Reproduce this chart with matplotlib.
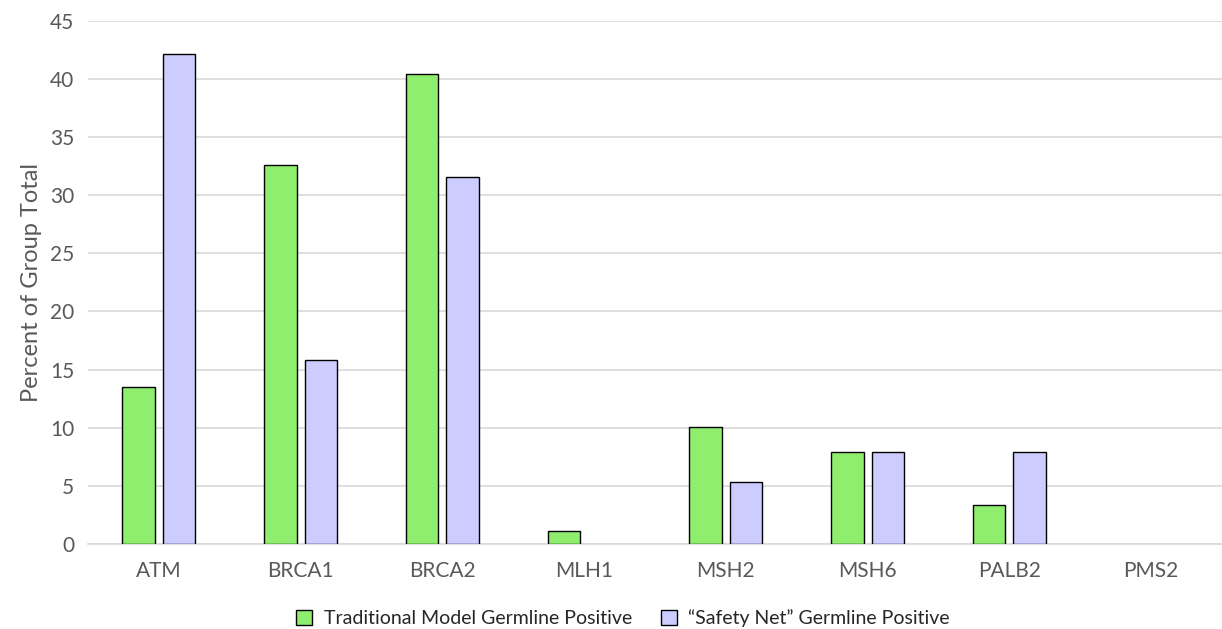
import matplotlib.pyplot as plt
import numpy as np

genes = ["ATM", "BRCA1", "BRCA2", "MLH1", "MSH2", "MSH6", "PALB2", "PMS2"]
traditional = [13.5, 32.6, 40.4, 1.1, 10.1, 7.9, 3.4, 0]
safety_net = [42.1, 15.8, 31.6, 0, 5.3, 7.9, 7.9, 0]
yticks = [0, 5, 10, 15, 20, 25, 30, 35, 40, 45]

plt.rcParams['font.family'] = ['Lato', 'DejaVu Sans']
grey = '#595959'

fig = plt.figure(figsize=(12.22, 6.29), dpi=100)
ax = fig.add_axes([0.072, 0.135, 0.928, 0.832])

x = np.arange(len(genes))
w = 0.23
off = 0.143
# empty categories get no outline
ax.bar(x - off, traditional, w, color='#90EE6E', edgecolor='black',
       linewidth=[1 if v > 0 else 0 for v in traditional],
       label='Traditional Model Germline Positive', zorder=3)
ax.bar(x + off, safety_net, w, color='#CCCCFF', edgecolor='black',
       linewidth=[1 if v > 0 else 0 for v in safety_net],
       label='\u201cSafety Net\u201d Germline Positive', zorder=3)

ax.set_xlim(-0.5, len(genes) - 0.5)
ax.set_ylim(0, 45)
ax.set_yticks(yticks)
ax.set_xticks(x)
ax.set_xticklabels(genes)
ax.tick_params(axis='both', length=0, labelsize=15, colors=grey)
ax.tick_params(axis='x', pad=12)
ax.tick_params(axis='y', pad=10)
ax.grid(axis='y', color='#D9D9D9', linewidth=1.2, zorder=0)
for s in ['top', 'right', 'left']:
    ax.spines[s].set_visible(False)
ax.spines['bottom'].set_color('#D9D9D9')
ax.spines['bottom'].set_linewidth(1.2)

ax.set_ylabel('Percent of Group Total', fontsize=17, color=grey, labelpad=6)

leg = fig.legend(loc='center', bbox_to_anchor=(0.51, 0.017), ncol=2, frameon=False,
                 fontsize=14, handlelength=0.8, handleheight=0.8, columnspacing=1.5,
                 handletextpad=0.6)
for h in leg.legend_handles:
    h.set_linewidth(1)
for t in leg.get_texts():
    t.set_color('#262626')

fig.savefig('out.png', dpi=100)
